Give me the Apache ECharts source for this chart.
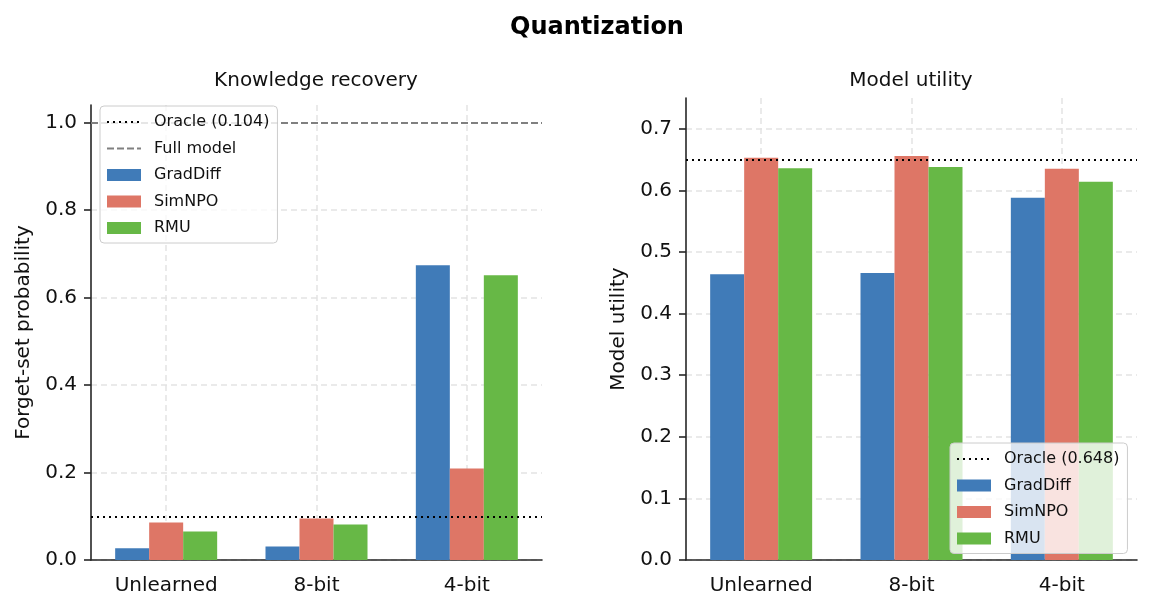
<!DOCTYPE html>
<html>
<head>
<meta charset="utf-8">
<script src="https://cdn.jsdelivr.net/npm/echarts@6/dist/echarts.min.js"></script>
<style>
  html, body { margin: 0; padding: 0; background: #fff; }
  #chart { width: 1152px; height: 610px; }
</style>
</head>
<body>
<div id="chart"></div>
<script>
// categories
const levels = ['Unlearned', '8-bit', '4-bit']

// Knowledge recovery (forget-set probability)
const krGradDiff = [0.027, 0.031, 0.674]
const krSimNPO = [0.086, 0.095, 0.209]
const krRMU = [0.065, 0.081, 0.651]
const krOracle = 0.104
const krFullModel = 0.997

// Model utility
const muGradDiff = [0.464, 0.466, 0.588]
const muSimNPO = [0.653, 0.656, 0.635]
const muRMU = [0.636, 0.638, 0.614]
const muOracle = 0.648

// tick labels
const krTicks = [0, 0.2, 0.4, 0.6, 0.8, 1.0]
const muTicks = [0, 0.1, 0.2, 0.3, 0.4, 0.5, 0.6, 0.7]

const colors = { GradDiff: '#407bb8', SimNPO: '#de7666', RMU: '#67b846' }
const ink = '#262626'
const gridColor = '#e4e4e4'
const font = 'DejaVu Sans'

const chart = echarts.init(document.getElementById('chart'))

function xAxisFor(idx) {
  return {
    type: 'category',
    gridIndex: idx,
    data: levels,
    axisLine: { lineStyle: { color: ink, width: 1.6 } },
    axisTick: { alignWithLabel: true, length: 7, lineStyle: { color: ink, width: 1.6 } },
    axisLabel: { color: '#111', fontSize: 20, margin: 16, fontFamily: font },
    splitLine: { show: true, alignWithLabel: true, lineStyle: { color: gridColor, type: [6, 4], width: 1.5 } },
  }
}

function yAxisFor(idx, max, ticks, name) {
  return {
    type: 'value',
    gridIndex: idx,
    min: 0,
    max: max,
    name: name,
    nameLocation: 'middle',
    nameGap: 57,
    nameTextStyle: { color: '#111', fontSize: 20, fontFamily: font },
    axisLine: { show: true, lineStyle: { color: ink, width: 1.6 } },
    axisTick: { show: true, length: 7, customValues: ticks, lineStyle: { color: ink, width: 1.6 } },
    axisLabel: {
      color: '#111', fontSize: 20, margin: 14, fontFamily: font,
      customValues: ticks,
      formatter: v => v.toFixed(1),
    },
    splitLine: { show: true, lineStyle: { color: gridColor, type: [6, 4], width: 1.5 } },
  }
}

function barsFor(idx, gd, sn, rmu) {
  return [['GradDiff', gd], ['SimNPO', sn], ['RMU', rmu]].map(([name, vals]) => ({
    name: name,
    type: 'bar',
    xAxisIndex: idx,
    yAxisIndex: idx,
    data: vals,
    barWidth: 34,
    barGap: '0%',
    itemStyle: { color: colors[name] },
  }))
}

// horizontal reference line, drawn as a markLine on an empty line series
function refLine(idx, name, value, color, dash) {
  const style = { color: color, type: dash, width: 2 }
  return {
    name: name,
    type: 'line',
    xAxisIndex: idx,
    yAxisIndex: idx,
    data: [],
    symbol: 'none',
    z: 5,
    lineStyle: style,
    itemStyle: { color: color },
    markLine: {
      silent: true,
      symbol: ['none', 'none'],
      label: { show: false },
      lineStyle: style,
      data: [{ yAxis: value }],
    },
  }
}

const legendBase = {
  orient: 'vertical',
  itemWidth: 34,
  itemHeight: 12,
  itemGap: 10.5,
  padding: [8, 8, 7, 6],
  backgroundColor: 'rgba(255,255,255,0.8)',
  borderColor: '#cccccc',
  borderWidth: 1,
  borderRadius: 4,
  z: 10,
  textStyle: { fontSize: 16, color: '#111', fontFamily: font, lineHeight: 16, padding: [0, 0, 0, 8] },
}

// line entries: hide the marker circle echarts puts in the middle
const lineItem = name => ({ name: name, itemStyle: { opacity: 0 } })
const barItem = name => ({ name: name, icon: 'rect' })

const option = {
  animation: false,
  textStyle: { fontFamily: font },
  title: [
    { text: 'Quantization', left: 597, top: 16, textAlign: 'center', padding: 0,
      textStyle: { fontSize: 24, fontWeight: 'bold', color: '#000', fontFamily: font } },
    { text: 'Knowledge recovery', left: 316, top: 71, textAlign: 'center', padding: 0,
      textStyle: { fontSize: 20, fontWeight: 'normal', color: '#111', fontFamily: font } },
    { text: 'Model utility', left: 911, top: 71, textAlign: 'center', padding: 0,
      textStyle: { fontSize: 20, fontWeight: 'normal', color: '#111', fontFamily: font } },
  ],
  legend: [
    Object.assign({}, legendBase, {
      left: 100, top: 106,
      data: [lineItem('Oracle (0.104)'), lineItem('Full model'), barItem('GradDiff'), barItem('SimNPO'), barItem('RMU')],
    }),
    Object.assign({}, legendBase, {
      left: 950, top: 443,
      data: [lineItem('Oracle (0.648)'), barItem('GradDiff'), barItem('SimNPO'), barItem('RMU')],
    }),
  ],
  grid: [
    { left: 91, top: 105, width: 451, height: 455 },
    { left: 686, top: 98, width: 451, height: 462 },
  ],
  xAxis: [xAxisFor(0), xAxisFor(1)],
  yAxis: [
    yAxisFor(0, 1.04, krTicks, 'Forget-set probability'),
    yAxisFor(1, 0.75, muTicks, 'Model utility'),
  ],
  series: [
    ...barsFor(0, krGradDiff, krSimNPO, krRMU),
    ...barsFor(1, muGradDiff, muSimNPO, muRMU),
    refLine(0, 'Oracle (0.104)', krOracle, '#000', [2, 4]),
    refLine(0, 'Full model', krFullModel, '#808080', [7, 3]),
    refLine(1, 'Oracle (0.648)', muOracle, '#000', [2, 4]),
  ],
}

chart.setOption(option)
</script>
</body>
</html>
